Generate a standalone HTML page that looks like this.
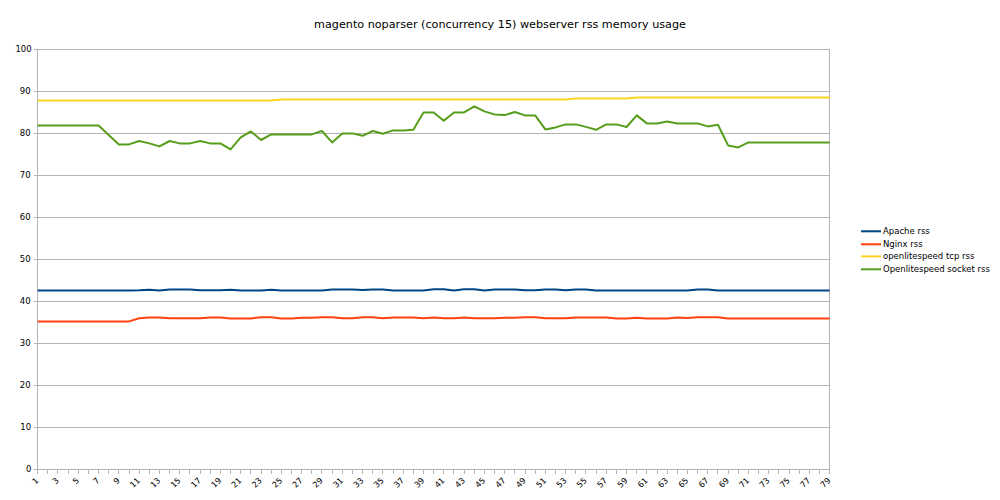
<!DOCTYPE html>
<html><head><meta charset="utf-8"><style>
html,body{margin:0;padding:0;background:#fff;}
body{width:1000px;height:500px;overflow:hidden;}
svg{display:block;}
text{font-family:"DejaVu Sans","Liberation Sans",sans-serif;fill:#000;}
</style></head><body>
<svg width="1000" height="500" viewBox="0 0 1000 500">
<rect width="1000" height="500" fill="#fff"/>
<text x="500" y="28" text-anchor="middle" style="font-size:11.2px">magento noparser (concurrency 15) webserver rss memory usage</text>
<g stroke="#b3b3b3" stroke-width="1" shape-rendering="crispEdges">
<line x1="34" y1="49.5" x2="830" y2="49.5"/>
<line x1="34" y1="91.5" x2="830" y2="91.5"/>
<line x1="34" y1="133.5" x2="830" y2="133.5"/>
<line x1="34" y1="175.5" x2="830" y2="175.5"/>
<line x1="34" y1="217.5" x2="830" y2="217.5"/>
<line x1="34" y1="259.5" x2="830" y2="259.5"/>
<line x1="34" y1="301.5" x2="830" y2="301.5"/>
<line x1="34" y1="343.5" x2="830" y2="343.5"/>
<line x1="34" y1="385.5" x2="830" y2="385.5"/>
<line x1="34" y1="427.5" x2="830" y2="427.5"/>
<line x1="34" y1="469.5" x2="830" y2="469.5"/>
<line x1="37.5" y1="49" x2="37.5" y2="470"/>
<line x1="829.5" y1="49" x2="829.5" y2="470"/>
<line x1="37.5" y1="469" x2="37.5" y2="474"/>
<line x1="47.5" y1="469" x2="47.5" y2="474"/>
<line x1="57.5" y1="469" x2="57.5" y2="474"/>
<line x1="68.5" y1="469" x2="68.5" y2="474"/>
<line x1="78.5" y1="469" x2="78.5" y2="474"/>
<line x1="88.5" y1="469" x2="88.5" y2="474"/>
<line x1="98.5" y1="469" x2="98.5" y2="474"/>
<line x1="108.5" y1="469" x2="108.5" y2="474"/>
<line x1="118.5" y1="469" x2="118.5" y2="474"/>
<line x1="129.5" y1="469" x2="129.5" y2="474"/>
<line x1="139.5" y1="469" x2="139.5" y2="474"/>
<line x1="149.5" y1="469" x2="149.5" y2="474"/>
<line x1="159.5" y1="469" x2="159.5" y2="474"/>
<line x1="169.5" y1="469" x2="169.5" y2="474"/>
<line x1="179.5" y1="469" x2="179.5" y2="474"/>
<line x1="189.5" y1="469" x2="189.5" y2="474"/>
<line x1="200.5" y1="469" x2="200.5" y2="474"/>
<line x1="210.5" y1="469" x2="210.5" y2="474"/>
<line x1="220.5" y1="469" x2="220.5" y2="474"/>
<line x1="230.5" y1="469" x2="230.5" y2="474"/>
<line x1="240.5" y1="469" x2="240.5" y2="474"/>
<line x1="250.5" y1="469" x2="250.5" y2="474"/>
<line x1="261.5" y1="469" x2="261.5" y2="474"/>
<line x1="271.5" y1="469" x2="271.5" y2="474"/>
<line x1="281.5" y1="469" x2="281.5" y2="474"/>
<line x1="291.5" y1="469" x2="291.5" y2="474"/>
<line x1="301.5" y1="469" x2="301.5" y2="474"/>
<line x1="311.5" y1="469" x2="311.5" y2="474"/>
<line x1="321.5" y1="469" x2="321.5" y2="474"/>
<line x1="332.5" y1="469" x2="332.5" y2="474"/>
<line x1="342.5" y1="469" x2="342.5" y2="474"/>
<line x1="352.5" y1="469" x2="352.5" y2="474"/>
<line x1="362.5" y1="469" x2="362.5" y2="474"/>
<line x1="372.5" y1="469" x2="372.5" y2="474"/>
<line x1="382.5" y1="469" x2="382.5" y2="474"/>
<line x1="393.5" y1="469" x2="393.5" y2="474"/>
<line x1="403.5" y1="469" x2="403.5" y2="474"/>
<line x1="413.5" y1="469" x2="413.5" y2="474"/>
<line x1="423.5" y1="469" x2="423.5" y2="474"/>
<line x1="433.5" y1="469" x2="433.5" y2="474"/>
<line x1="443.5" y1="469" x2="443.5" y2="474"/>
<line x1="453.5" y1="469" x2="453.5" y2="474"/>
<line x1="464.5" y1="469" x2="464.5" y2="474"/>
<line x1="474.5" y1="469" x2="474.5" y2="474"/>
<line x1="484.5" y1="469" x2="484.5" y2="474"/>
<line x1="494.5" y1="469" x2="494.5" y2="474"/>
<line x1="504.5" y1="469" x2="504.5" y2="474"/>
<line x1="514.5" y1="469" x2="514.5" y2="474"/>
<line x1="525.5" y1="469" x2="525.5" y2="474"/>
<line x1="535.5" y1="469" x2="535.5" y2="474"/>
<line x1="545.5" y1="469" x2="545.5" y2="474"/>
<line x1="555.5" y1="469" x2="555.5" y2="474"/>
<line x1="565.5" y1="469" x2="565.5" y2="474"/>
<line x1="575.5" y1="469" x2="575.5" y2="474"/>
<line x1="585.5" y1="469" x2="585.5" y2="474"/>
<line x1="596.5" y1="469" x2="596.5" y2="474"/>
<line x1="606.5" y1="469" x2="606.5" y2="474"/>
<line x1="616.5" y1="469" x2="616.5" y2="474"/>
<line x1="626.5" y1="469" x2="626.5" y2="474"/>
<line x1="636.5" y1="469" x2="636.5" y2="474"/>
<line x1="646.5" y1="469" x2="646.5" y2="474"/>
<line x1="657.5" y1="469" x2="657.5" y2="474"/>
<line x1="667.5" y1="469" x2="667.5" y2="474"/>
<line x1="677.5" y1="469" x2="677.5" y2="474"/>
<line x1="687.5" y1="469" x2="687.5" y2="474"/>
<line x1="697.5" y1="469" x2="697.5" y2="474"/>
<line x1="707.5" y1="469" x2="707.5" y2="474"/>
<line x1="717.5" y1="469" x2="717.5" y2="474"/>
<line x1="728.5" y1="469" x2="728.5" y2="474"/>
<line x1="738.5" y1="469" x2="738.5" y2="474"/>
<line x1="748.5" y1="469" x2="748.5" y2="474"/>
<line x1="758.5" y1="469" x2="758.5" y2="474"/>
<line x1="768.5" y1="469" x2="768.5" y2="474"/>
<line x1="778.5" y1="469" x2="778.5" y2="474"/>
<line x1="789.5" y1="469" x2="789.5" y2="474"/>
<line x1="799.5" y1="469" x2="799.5" y2="474"/>
<line x1="809.5" y1="469" x2="809.5" y2="474"/>
<line x1="819.5" y1="469" x2="819.5" y2="474"/>
<line x1="829.5" y1="469" x2="829.5" y2="474"/>
</g>
<g style="font-size:8.5px" text-anchor="end">
<text x="31.7" y="51.7">100</text>
<text x="30.7" y="93.7">90</text>
<text x="30.7" y="135.7">80</text>
<text x="30.7" y="177.7">70</text>
<text x="30.7" y="219.7">60</text>
<text x="30.7" y="261.7">50</text>
<text x="30.7" y="303.7">40</text>
<text x="30.7" y="345.7">30</text>
<text x="30.7" y="387.7">20</text>
<text x="31.1" y="429.7">10</text>
<text x="31.3" y="471.7">0</text>
</g>
<g style="font-size:8.2px" text-anchor="end">
<text transform="translate(39.15,481) rotate(-45)">1</text>
<text transform="translate(59.46,481) rotate(-45)">3</text>
<text transform="translate(79.77,481) rotate(-45)">5</text>
<text transform="translate(100.07,481) rotate(-45)">7</text>
<text transform="translate(120.38,481) rotate(-45)">9</text>
<text transform="translate(140.69,481) rotate(-45)">11</text>
<text transform="translate(161.00,481) rotate(-45)">13</text>
<text transform="translate(181.30,481) rotate(-45)">15</text>
<text transform="translate(201.61,481) rotate(-45)">17</text>
<text transform="translate(221.92,481) rotate(-45)">19</text>
<text transform="translate(242.23,481) rotate(-45)">21</text>
<text transform="translate(262.53,481) rotate(-45)">23</text>
<text transform="translate(282.84,481) rotate(-45)">25</text>
<text transform="translate(303.15,481) rotate(-45)">27</text>
<text transform="translate(323.46,481) rotate(-45)">29</text>
<text transform="translate(343.77,481) rotate(-45)">31</text>
<text transform="translate(364.07,481) rotate(-45)">33</text>
<text transform="translate(384.38,481) rotate(-45)">35</text>
<text transform="translate(404.69,481) rotate(-45)">37</text>
<text transform="translate(425.00,481) rotate(-45)">39</text>
<text transform="translate(445.30,481) rotate(-45)">41</text>
<text transform="translate(465.61,481) rotate(-45)">43</text>
<text transform="translate(485.92,481) rotate(-45)">45</text>
<text transform="translate(506.23,481) rotate(-45)">47</text>
<text transform="translate(526.53,481) rotate(-45)">49</text>
<text transform="translate(546.84,481) rotate(-45)">51</text>
<text transform="translate(567.15,481) rotate(-45)">53</text>
<text transform="translate(587.46,481) rotate(-45)">55</text>
<text transform="translate(607.77,481) rotate(-45)">57</text>
<text transform="translate(628.07,481) rotate(-45)">59</text>
<text transform="translate(648.38,481) rotate(-45)">61</text>
<text transform="translate(668.69,481) rotate(-45)">63</text>
<text transform="translate(689.00,481) rotate(-45)">65</text>
<text transform="translate(709.30,481) rotate(-45)">67</text>
<text transform="translate(729.61,481) rotate(-45)">69</text>
<text transform="translate(749.92,481) rotate(-45)">71</text>
<text transform="translate(770.23,481) rotate(-45)">73</text>
<text transform="translate(790.53,481) rotate(-45)">75</text>
<text transform="translate(810.84,481) rotate(-45)">77</text>
<text transform="translate(831.15,481) rotate(-45)">79</text>
</g>
<g fill="none" stroke-width="2" stroke-linejoin="round" stroke-linecap="butt">
<polyline stroke="#004586" points="37.65,290.40 47.80,290.40 57.96,290.40 68.11,290.40 78.27,290.40 88.42,290.40 98.57,290.40 108.73,290.40 118.88,290.40 129.03,290.40 139.19,290.30 149.34,289.70 159.50,290.40 169.65,289.50 179.80,289.50 189.96,289.50 200.11,290.30 210.27,290.30 220.42,290.30 230.57,289.70 240.73,290.40 250.88,290.40 261.03,290.40 271.19,289.70 281.34,290.40 291.50,290.40 301.65,290.40 311.80,290.40 321.96,290.40 332.11,289.50 342.27,289.50 352.42,289.50 362.57,290.00 372.73,289.50 382.88,289.50 393.03,290.40 403.19,290.40 413.34,290.40 423.50,290.40 433.65,289.30 443.80,289.30 453.96,290.40 464.11,289.30 474.27,289.30 484.42,290.40 494.57,289.40 504.73,289.40 514.88,289.40 525.03,290.30 535.19,290.30 545.34,289.40 555.50,289.40 565.65,290.30 575.80,289.40 585.96,289.40 596.11,290.40 606.27,290.40 616.42,290.40 626.57,290.40 636.73,290.40 646.88,290.40 657.03,290.40 667.19,290.40 677.34,290.40 687.50,290.40 697.65,289.40 707.80,289.40 717.96,290.40 728.11,290.40 738.27,290.40 748.42,290.40 758.57,290.40 768.73,290.40 778.88,290.40 789.03,290.40 799.19,290.40 809.34,290.40 819.50,290.40 829.65,290.40"/>
<polyline stroke="#ff420e" points="37.65,321.40 47.80,321.40 57.96,321.40 68.11,321.40 78.27,321.40 88.42,321.40 98.57,321.40 108.73,321.40 118.88,321.40 129.03,321.40 139.19,318.30 149.34,317.50 159.50,317.50 169.65,318.30 179.80,318.30 189.96,318.30 200.11,318.30 210.27,317.50 220.42,317.50 230.57,318.40 240.73,318.40 250.88,318.40 261.03,317.30 271.19,317.30 281.34,318.40 291.50,318.40 301.65,317.80 311.80,317.80 321.96,317.20 332.11,317.20 342.27,318.20 352.42,318.20 362.57,317.20 372.73,317.20 382.88,318.20 393.03,317.50 403.19,317.50 413.34,317.50 423.50,318.30 433.65,317.40 443.80,318.30 453.96,318.30 464.11,317.40 474.27,318.30 484.42,318.30 494.57,318.30 504.73,317.80 514.88,317.80 525.03,317.30 535.19,317.30 545.34,318.30 555.50,318.30 565.65,318.30 575.80,317.50 585.96,317.50 596.11,317.50 606.27,317.50 616.42,318.50 626.57,318.50 636.73,317.70 646.88,318.50 657.03,318.50 667.19,318.50 677.34,317.60 687.50,318.00 697.65,317.20 707.80,317.20 717.96,317.20 728.11,318.50 738.27,318.50 748.42,318.50 758.57,318.50 768.73,318.50 778.88,318.50 789.03,318.50 799.19,318.50 809.34,318.50 819.50,318.50 829.65,318.50"/>
<polyline stroke="#ffd320" points="37.65,100.40 47.80,100.40 57.96,100.40 68.11,100.40 78.27,100.40 88.42,100.40 98.57,100.40 108.73,100.40 118.88,100.40 129.03,100.40 139.19,100.40 149.34,100.40 159.50,100.40 169.65,100.40 179.80,100.40 189.96,100.40 200.11,100.40 210.27,100.40 220.42,100.40 230.57,100.40 240.73,100.40 250.88,100.40 261.03,100.40 271.19,100.40 281.34,99.40 291.50,99.40 301.65,99.40 311.80,99.40 321.96,99.40 332.11,99.40 342.27,99.40 352.42,99.40 362.57,99.40 372.73,99.40 382.88,99.40 393.03,99.40 403.19,99.40 413.34,99.40 423.50,99.40 433.65,99.40 443.80,99.40 453.96,99.40 464.11,99.40 474.27,99.40 484.42,99.40 494.57,99.40 504.73,99.40 514.88,99.40 525.03,99.40 535.19,99.40 545.34,99.40 555.50,99.40 565.65,99.40 575.80,98.40 585.96,98.40 596.11,98.40 606.27,98.40 616.42,98.40 626.57,98.40 636.73,97.40 646.88,97.40 657.03,97.40 667.19,97.40 677.34,97.40 687.50,97.40 697.65,97.40 707.80,97.40 717.96,97.40 728.11,97.40 738.27,97.40 748.42,97.40 758.57,97.40 768.73,97.40 778.88,97.40 789.03,97.40 799.19,97.40 809.34,97.40 819.50,97.40 829.65,97.40"/>
<polyline stroke="#579d1c" points="37.65,125.40 47.80,125.40 57.96,125.40 68.11,125.40 78.27,125.40 88.42,125.40 98.57,125.40 108.73,134.90 118.88,144.40 129.03,144.40 139.19,141.00 149.34,143.40 159.50,146.40 169.65,141.00 179.80,143.40 189.96,143.40 200.11,141.00 210.27,143.40 220.42,143.40 230.57,149.40 240.73,137.40 250.88,131.40 261.03,140.00 271.19,134.40 281.34,134.40 291.50,134.40 301.65,134.40 311.80,134.40 321.96,131.00 332.11,142.40 342.27,133.40 352.42,133.40 362.57,135.80 372.73,131.00 382.88,133.70 393.03,130.40 403.19,130.40 413.34,129.80 423.50,112.40 433.65,112.40 443.80,120.70 453.96,112.40 464.11,112.40 474.27,106.40 484.42,111.40 494.57,114.40 504.73,115.10 514.88,112.00 525.03,115.40 535.19,115.40 545.34,129.40 555.50,127.40 565.65,124.40 575.80,124.40 585.96,126.90 596.11,129.80 606.27,124.40 616.42,124.40 626.57,127.00 636.73,115.40 646.88,123.40 657.03,123.40 667.19,121.40 677.34,123.40 687.50,123.40 697.65,123.40 707.80,126.40 717.96,124.70 728.11,145.40 738.27,147.40 748.42,142.40 758.57,142.40 768.73,142.40 778.88,142.40 789.03,142.40 799.19,142.40 809.34,142.40 819.50,142.40 829.65,142.40"/>
</g>
<g stroke-width="2">
<line x1="861" y1="231.3" x2="881" y2="231.3" stroke="#004586"/>
<line x1="861" y1="244.3" x2="881" y2="244.3" stroke="#ff420e"/>
<line x1="861" y1="256.4" x2="881" y2="256.4" stroke="#ffd320"/>
<line x1="861" y1="269.3" x2="881" y2="269.3" stroke="#579d1c"/>
</g>
<g style="font-size:8.5px">
<text x="883" y="234">Apache rss</text>
<text x="883" y="246.6">Nginx rss</text>
<text x="883" y="259.2">openlitespeed tcp rss</text>
<text x="883" y="271.8">Openlitespeed socket rss</text>
</g>
</svg>
</body></html>
